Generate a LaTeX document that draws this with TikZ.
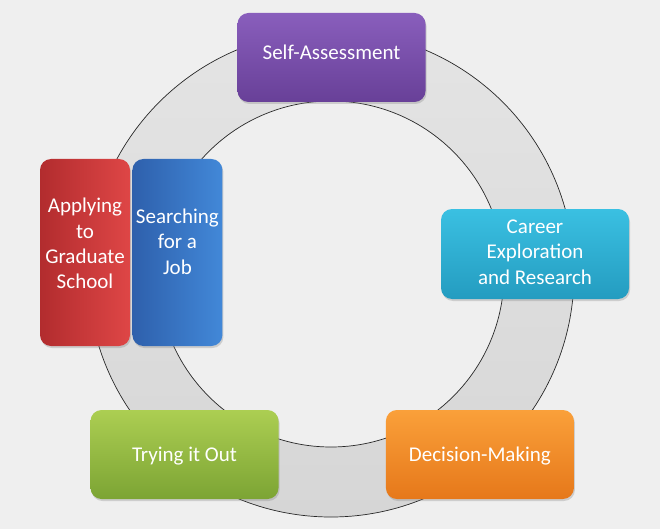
\documentclass[tikz,border=0pt]{standalone}
\usepackage{fontspec}
\newfontfamily\stagefont{Carlito}
\usetikzlibrary{positioning,shadows}
\definecolor{bggray}{RGB}{239,239,239}
\definecolor{ringtop}{RGB}{228,228,228}
\definecolor{ringbot}{RGB}{214,214,214}
\definecolor{ringline}{RGB}{40,40,40}
\tikzset{
  stage/.style={rectangle, rounded corners=11pt, minimum width=188pt,
    minimum height=89pt, inner sep=2pt, align=center, text=white,
    font=\stagefont\fontsize{21}{25.3}\selectfont,
    drop shadow={opacity=0.3, shadow xshift=1pt, shadow yshift=-2pt}},
  tall/.style={stage, minimum width=90pt, minimum height=187pt},
}

\begin{document}
\begin{tikzpicture}[x=1pt,y=-1pt]
  \fill[bggray] (0,0) rectangle (660,529);
  \useasboundingbox (0,0) rectangle (660,529);

  % Ring
  \coordinate (c) at (331,274);
  \path[draw=ringline, line width=0.7pt, even odd rule,
    top color=ringtop, bottom color=ringbot]
    (c) circle[radius=243pt] (c) circle[radius=173pt];

  % Define nodes
  \node[stage, text depth=10pt, top color={rgb,255:red,137;green,94;blue,188},
    bottom color={rgb,255:red,104;green,64;blue,152}]
    (selfassess) at (331.5,57.5) {Self-Assessment};
  \node[stage, minimum height=90pt, text depth=4pt,
    top color={rgb,255:red,58;green,192;blue,226},
    bottom color={rgb,255:red,36;green,156;blue,192}]
    (career) at (535,254) {Career\\Exploration\\and Research};
  \node[stage, text height=19pt, text depth=4.5pt,
    top color={rgb,255:red,172;green,206;blue,82},
    bottom color={rgb,255:red,124;green,164;blue,52}]
    (trying) at (184.5,454.5) {Trying it Out};
  \node[stage, right=107pt of trying, text height=19pt, text depth=4.5pt,
    top color={rgb,255:red,250;green,160;blue,58},
    bottom color={rgb,255:red,230;green,120;blue,26}]
    (decision) {Decision-Making};
  \node[tall, text depth=18pt, left color={rgb,255:red,178;green,44;blue,46},
    right color={rgb,255:red,222;green,70;blue,70}]
    (gradschool) at (85,252.5) {Applying\\to\\Graduate\\School};
  \node[tall, right=2pt of gradschool, text depth=22pt,
    left color={rgb,255:red,46;green,96;blue,172},
    right color={rgb,255:red,66;green,136;blue,216}]
    (jobsearch) {Searching\\for a\\Job};
\end{tikzpicture}
\end{document}
